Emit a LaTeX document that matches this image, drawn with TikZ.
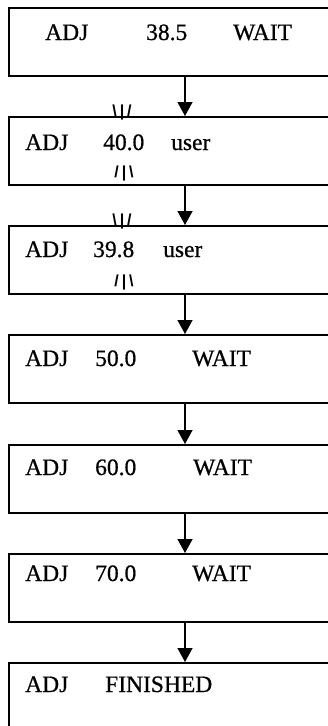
\documentclass[tikz,border=0pt]{standalone}
\usepackage{fontspec}
\setmainfont{Liberation Serif}
\newfontfamily\lblfont[FakeBold=0.7]{Liberation Serif}
\newfontfamily\markfont{Liberation Sans}
\usetikzlibrary{arrows.meta}
\tikzset{
  box/.style={draw, line width=1.5pt, minimum width=340pt, minimum height=68pt, anchor=north west, inner sep=0pt},
  lbl/.style={anchor=base west, inner sep=0pt, font=\lblfont\fontsize{23.5}{26}\selectfont},
  cursormark/.style={anchor=base, inner sep=0pt, font=\markfont\bfseries\fontsize{16}{18}\selectfont},
  arr/.style={line width=1.3pt, -{Triangle[length=14pt, width=15pt]}}
}
\newcommand{\markup}{\textbackslash\kern3pt\textbar\kern3pt/}
\newcommand{\markdown}{/\kern3pt\textbar\kern3pt\textbackslash}
\begin{document}
\begin{tikzpicture}[x=1pt, y=-1pt]
\useasboundingbox (0,0) rectangle (328,726);
\clip (0,0) rectangle (328,726);
\coordinate (ax) at (185,0);
% boxes
\node[box] (b1) at (8,7) {};
\node[box] (b2) at (8,116) {};
\node[box] (b3) at (8,225) {};
\node[box] (b4) at (8,334) {};
\node[box] (b5) at (8,444) {};
\node[box] (b6) at (8,553) {};
\node[box] (b7) at (8,662) {};
% texts
\node[lbl] (t1a) at (45,40) {ADJ};
\node[lbl] (t1b) at (146,40) {38.5};
\node[lbl] (t1c) at (233,40) {WAIT};
\node[lbl] (t2a) at (25,150) {ADJ};
\node[lbl] (t2b) at (103,150) {40.0};
\node[lbl] (t2c) at (171,150) {user};
\node[lbl] (t3a) at (25,257) {ADJ};
\node[lbl] (t3b) at (93,257) {39.8};
\node[lbl] (t3c) at (163,257) {user};
\node[lbl] (t4a) at (25,366) {ADJ};
\node[lbl] (t4b) at (95,366) {50.0};
\node[lbl] (t4c) at (192,366) {WAIT};
\node[lbl] (t5a) at (25,475) {ADJ};
\node[lbl] (t5b) at (95,475) {60.0};
\node[lbl] (t5c) at (193,475) {WAIT};
\node[lbl] (t6a) at (25,581) {ADJ};
\node[lbl] (t6b) at (95,581) {70.0};
\node[lbl] (t6c) at (192,581) {WAIT};
\node[lbl] (t7a) at (25,692) {ADJ};
\node[lbl] (t7b) at (105,692) {FINISHED};
% marks
\node[cursormark] (m1) at (122,116) {\markup};
\node[cursormark] (m2) at (124,177) {\markdown};
\node[cursormark] (m3) at (122,225) {\markup};
\node[cursormark] (m4) at (124,286) {\markdown};
% arrows
\draw[arr] (b1.south -| ax) -- (b2.north -| ax);
\draw[arr] (b2.south -| ax) -- (b3.north -| ax);
\draw[arr] (b3.south -| ax) -- (b4.north -| ax);
\draw[arr] (b4.south -| ax) -- (b5.north -| ax);
\draw[arr] (b5.south -| ax) -- (b6.north -| ax);
\draw[arr] (b6.south -| ax) -- (b7.north -| ax);
\end{tikzpicture}
\end{document}
